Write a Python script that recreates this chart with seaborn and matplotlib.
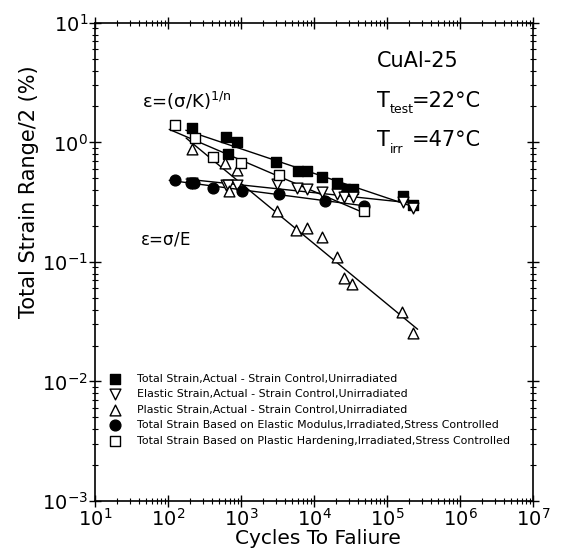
import numpy as np
import pandas as pd
import seaborn as sns
import matplotlib
matplotlib.use("Agg")
import matplotlib.pyplot as plt
from matplotlib.ticker import LogLocator, NullFormatter

# ---------------- data ----------------
total_N = [211, 624, 670, 873, 3060, 6040, 7940, 12740, 20460, 26600, 33900, 167000, 229000]
total_eps = [1.32, 1.105, 0.80, 1.00, 0.687, 0.572, 0.572, 0.519, 0.462, 0.408, 0.408, 0.357, 0.300]

elastic_N = [213, 624, 664, 880, 3084, 5800, 7940, 12740, 20480, 26000, 33900, 167000, 229000]
elastic_eps = [0.46, 0.44, 0.44, 0.44, 0.45, 0.414, 0.408, 0.385, 0.371, 0.350, 0.350, 0.320, 0.281]

plastic_N = [213, 604, 685, 873, 3084, 5600, 8100, 12740, 20480, 26000, 32800, 162000, 229000]
plastic_eps = [0.877, 0.670, 0.395, 0.589, 0.268, 0.185, 0.191, 0.161, 0.109, 0.074, 0.065, 0.0384, 0.0253]

modulus_N = [125, 205, 230, 418, 1023, 3350, 14150, 48900]
modulus_eps = [0.485, 0.458, 0.458, 0.416, 0.395, 0.371, 0.326, 0.296]

hardening_N = [125, 234, 418, 1000, 3350, 48900]
hardening_eps = [1.40, 1.08, 0.751, 0.673, 0.530, 0.267]

labels = [
    "Total Strain,Actual - Strain Control,Unirradiated",
    "Elastic Strain,Actual - Strain Control,Unirradiated",
    "Plastic Strain,Actual - Strain Control,Unirradiated",
    "Total Strain Based on Elastic Modulus,Irradiated,Stress Controlled",
    "Total Strain Based on Plastic Hardening,Irradiated,Stress Controlled",
]

series = [
    (total_N, total_eps, "s", "black"),
    (elastic_N, elastic_eps, "v", "white"),
    (plastic_N, plastic_eps, "^", "white"),
    (modulus_N, modulus_eps, "o", "black"),
    (hardening_N, hardening_eps, "s", "white"),
]

# ---------------- style ----------------
sns.set_theme(style="white")
plt.rcParams["font.family"] = ["DejaVu Sans"]
plt.rcParams["mathtext.fontset"] = "custom"
plt.rcParams["mathtext.rm"] = "DejaVu Sans"
plt.rcParams["mathtext.it"] = "DejaVu Sans"
plt.rcParams["axes.linewidth"] = 1.2
plt.rcParams["text.color"] = "black"
plt.rcParams["axes.labelcolor"] = "black"
plt.rcParams["xtick.color"] = "black"
plt.rcParams["ytick.color"] = "black"

fig = plt.figure(figsize=(5.64, 5.48), dpi=100)
ax = fig.add_axes([0.1684, 0.0858, 0.7766, 0.8723])
ax.set_xscale("log")
ax.set_yscale("log")

# fitted lines (log-log regression of each series)
for N, eps, mk, fc in series:
    lx = np.log10(N)
    ly = np.log10(eps)
    b, a = np.polyfit(lx, ly, 1)
    xs = np.array([lx.min() - 0.08, lx.max() + 0.06])
    line_df = pd.DataFrame({"N": 10 ** xs, "eps": 10 ** (a + b * xs)})
    sns.lineplot(data=line_df, x="N", y="eps", ax=ax, color="black", lw=1.0,
                 legend=False, zorder=2)

# markers
for (N, eps, mk, fc), lab in zip(series, labels):
    df = pd.DataFrame({"N": N, "eps": eps})
    sns.scatterplot(data=df, x="N", y="eps", ax=ax, marker=mk, s=60,
                    facecolor=fc, edgecolor="black", linewidth=1.0,
                    label=lab, zorder=3)

ax.set_xlim(10, 1e7)
ax.set_ylim(1e-3, 10)

for axis in (ax.xaxis, ax.yaxis):
    axis.set_major_locator(LogLocator(base=10, numticks=20))
    axis.set_minor_locator(LogLocator(base=10, subs=np.arange(2, 10), numticks=20))
    axis.set_minor_formatter(NullFormatter())

ax.tick_params(which="major", direction="inout", length=9, width=1.0,
               top=True, right=True, bottom=True, left=True,
               labelsize=14, pad=0.5, colors="black")
ax.tick_params(which="minor", direction="inout", length=5, width=0.8,
               top=True, right=True, bottom=True, left=True)
for s in ax.spines.values():
    s.set_color("black")

ax.set_xlabel("Cycles To Faliure", fontsize=14.5)
ax.set_ylabel("Total Strain Range/2 (%)", fontsize=15)
ax.xaxis.set_label_coords(0.509, -0.058)
ax.yaxis.set_label_coords(-0.128, 0.646)

# annotations
ax.text(0.107, 0.837, r"$\mathregular{\varepsilon}$=($\mathregular{\sigma}$/K)$^{\mathregular{1/n}}$",
        transform=ax.transAxes, fontsize=13, va="center", ha="left")
ax.text(0.103, 0.546, r"$\mathregular{\varepsilon}$=$\mathregular{\sigma}$/E",
        transform=ax.transAxes, fontsize=12, va="center", ha="left")
ax.text(0.644, 0.920, "CuAl-25", transform=ax.transAxes, fontsize=15,
        va="center", ha="left")
ax.text(0.644, 0.837, "T", transform=ax.transAxes, fontsize=15,
        va="center", ha="left")
ax.text(0.674, 0.818, "test", transform=ax.transAxes, fontsize=9,
        va="center", ha="left")
ax.text(0.724, 0.837, "=22°C", transform=ax.transAxes, fontsize=15,
        va="center", ha="left")
ax.text(0.644, 0.755, "T", transform=ax.transAxes, fontsize=15,
        va="center", ha="left")
ax.text(0.674, 0.736, "irr", transform=ax.transAxes, fontsize=9,
        va="center", ha="left")
ax.text(0.724, 0.755, "=47°C", transform=ax.transAxes, fontsize=15,
        va="center", ha="left")

leg = ax.legend(loc="upper left", bbox_to_anchor=(0.015, 0.282), frameon=False,
                fontsize=7.9, handletextpad=1.5, labelspacing=0.5,
                borderpad=0.2, markerscale=1.0, handlelength=1.0)

fig.savefig("out.png", dpi=100)
